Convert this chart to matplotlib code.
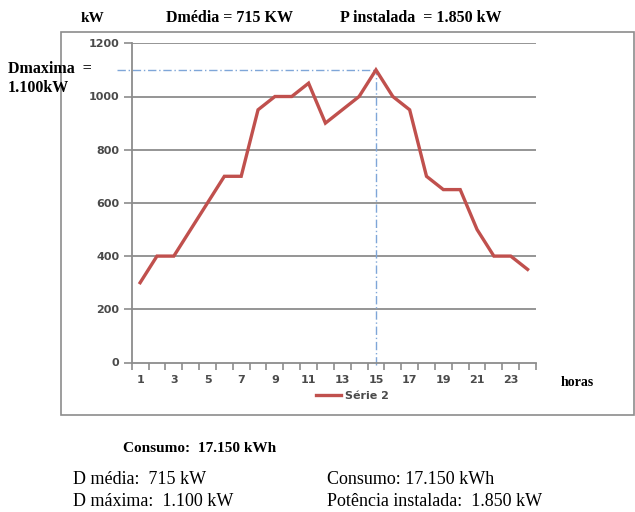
import matplotlib
matplotlib.use("Agg")
import matplotlib.pyplot as plt
from matplotlib.patches import Rectangle
from matplotlib.ticker import FixedLocator, NullFormatter

hours = list(range(1, 25))
demand_kw = [300, 400, 400, 500, 600, 700, 700, 950, 1000, 1000, 1050, 900,
             950, 1000, 1100, 1000, 950, 700, 650, 650, 500, 400, 400, 350]
y_ticks = [0, 200, 400, 600, 800, 1000, 1200]
x_labels = [1, 3, 5, 7, 9, 11, 13, 15, 17, 19, 21, 23]
series_name = "Série 2"

W, H = 635, 512
fig = plt.figure(figsize=(W / 100, H / 100), dpi=100)
fig.patch.set_facecolor("white")

# outer chart frame
fig.patches.append(Rectangle((61 / W, 1 - 415 / H), (634 - 61) / W, (415 - 32) / H,
                             transform=fig.transFigure, fill=False,
                             edgecolor="#8c8c8c", lw=1.2))

ax = fig.add_axes([131.7 / W, 1 - 362.5 / H, (536 - 131.7) / W, (362.5 - 43.3) / H])
ax.set_facecolor("none")

grid_c = "#8c8c8c"
for v in y_ticks[1:]:
    ax.axhline(v, color=grid_c, lw=1.3, zorder=1)

line_c = "#C0504D"
ax.plot(hours, demand_kw, color=line_c, lw=2.4, solid_joinstyle="miter", zorder=3,
        label=series_name)

ax.set_xlim(0.5, 24.5)
ax.set_ylim(0, 1200)

for s in ["top", "right"]:
    ax.spines[s].set_visible(False)
for s in ["left", "bottom"]:
    ax.spines[s].set_color(grid_c)
    ax.spines[s].set_linewidth(1.3)

tick_font = dict(family="DejaVu Sans", size=8, weight="bold", color="#4a4a4a")
ax.set_yticks(y_ticks)
ax.set_yticklabels([str(v) for v in y_ticks], **tick_font)
ax.tick_params(axis="y", length=6, width=1.2, color=grid_c, pad=3)

ax.xaxis.set_major_locator(FixedLocator([h - 0.5 for h in hours] + [24.5]))
ax.xaxis.set_major_formatter(NullFormatter())
ax.xaxis.set_minor_locator(FixedLocator(x_labels))
ax.set_xticklabels([str(v) for v in x_labels], minor=True, **tick_font)
ax.tick_params(axis="x", which="major", length=5, width=1.2, color=grid_c)
ax.tick_params(axis="x", which="minor", length=0, pad=9)

# peak reference lines
peak = max(demand_kw)
peak_h = hours[demand_kw.index(peak)]
ref_c = "#7FA6D8"
ax.hlines(peak, -0.4, peak_h, colors=ref_c, lw=1.0, linestyles=(0, (6, 2, 1, 2)),
          clip_on=False, zorder=2)
ax.vlines(peak_h, -10, peak, colors=ref_c, lw=1.0, linestyles=(0, (6, 2, 1, 2)),
          clip_on=False, zorder=2)

leg = fig.legend(loc="center", bbox_to_anchor=(352 / W, 1 - 396 / H), frameon=False,
                 handlelength=2.3, handletextpad=0.3,
                 prop=dict(family="DejaVu Sans", size=8, weight="bold"))
for t in leg.get_texts():
    t.set_color("#4a4a4a")

serif_b = dict(family="Liberation Serif", weight="bold", color="black")
fig.text(81 / W, 1 - 18 / H, "kW", fontsize=11, va="center", ha="left", **serif_b)
fig.text(166 / W, 1 - 18 / H, "Dmédia = 715 KW", fontsize=11.5, va="center", ha="left", **serif_b)
fig.text(340 / W, 1 - 18 / H, "P instalada  = 1.850 kW", fontsize=11.5, va="center", ha="left", **serif_b)
fig.text(8 / W, 1 - 69 / H, "Dmaxima  =", fontsize=11.5, va="center", ha="left", **serif_b)
fig.text(8 / W, 1 - 88 / H, "1.100kW", fontsize=11.5, va="center", ha="left", **serif_b)
fig.text(561 / W, 1 - 383 / H, "horas", fontsize=10, va="center", ha="left", **serif_b)
fig.text(123 / W, 1 - 449 / H, "Consumo:  17.150 kWh", fontsize=11, va="center", ha="left", **serif_b)

serif = dict(family="Liberation Serif", color="black", fontsize=13)
fig.text(73 / W, 1 - 480 / H, "D média:  715 kW", va="center", ha="left", **serif)
fig.text(73 / W, 1 - 501 / H, "D máxima:  1.100 kW", va="center", ha="left", **serif)
fig.text(327 / W, 1 - 480 / H, "Consumo: 17.150 kWh", va="center", ha="left", **serif)
fig.text(327 / W, 1 - 501 / H, "Potência instalada:  1.850 kW", va="center", ha="left", **serif)

fig.savefig("out.png", dpi=100, facecolor="white")
